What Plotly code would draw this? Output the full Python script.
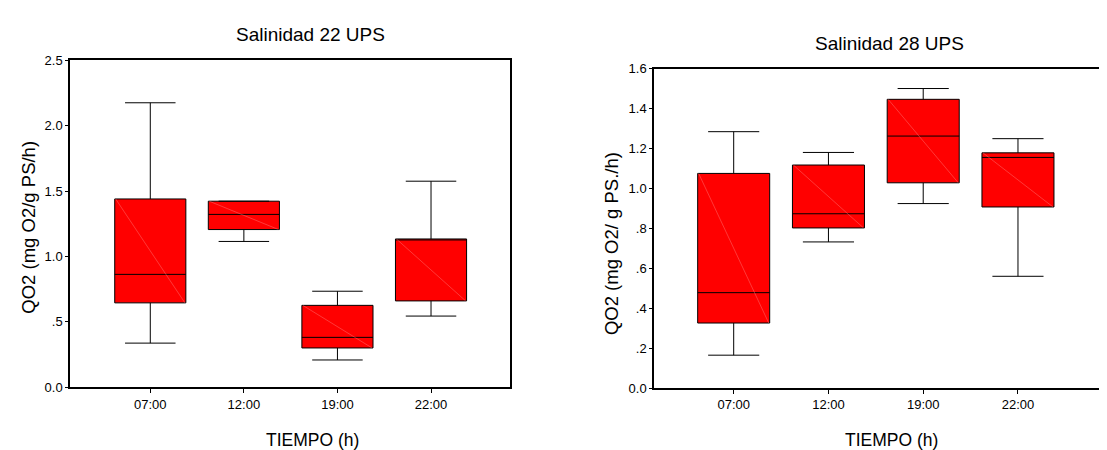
import plotly.graph_objects as go

# ---- data ----
categories = ["07:00", "12:00", "19:00", "22:00"]

# Salinidad 22 UPS
s22_lower = [0.337, 1.115, 0.208, 0.544]
s22_q1 = [0.645, 1.206, 0.300, 0.660]
s22_median = [0.863, 1.322, 0.381, 1.127]
s22_q3 = [1.440, 1.423, 0.626, 1.134]
s22_upper = [2.176, 1.423, 0.734, 1.576]

# Salinidad 28 UPS
s28_lower = [0.165, 0.732, 0.924, 0.560]
s28_q1 = [0.326, 0.802, 1.028, 0.907]
s28_median = [0.478, 0.873, 1.262, 1.155]
s28_q3 = [1.075, 1.117, 1.446, 1.178]
s28_upper = [1.284, 1.180, 1.500, 1.249]

y22_ticks = [0.0, 0.5, 1.0, 1.5, 2.0, 2.5]
y22_ticktext = ["0.0", ".5", "1.0", "1.5", "2.0", "2.5"]
y28_ticks = [0.0, 0.2, 0.4, 0.6, 0.8, 1.0, 1.2, 1.4, 1.6]
y28_ticktext = ["0.0", ".2", ".4", ".6", ".8", "1.0", "1.2", "1.4", "1.6"]

titles = ["Salinidad 22 UPS", "Salinidad 28 UPS"]
xtitle = "TIEMPO (h)"
ytitles = ["QO2 (mg O2/g PS/h)", "QO2 (mg O2/ g PS./h)"]

# ---- style ----
FONT = "Liberation Sans, Arial, sans-serif"
BOX_W = 0.76
W, H = 1107, 450

fig = go.Figure()

def add_box(xa, ya, lower, q1, med, q3, upper):
    fig.add_trace(go.Box(
        x=categories, lowerfence=lower, q1=q1, median=med, q3=q3, upperfence=upper,
        xaxis=xa, yaxis=ya, width=BOX_W, whiskerwidth=0.71,
        fillcolor="#ff0000", line=dict(color="black", width=1),
        boxpoints=False, showlegend=False, hoverinfo="skip",
    ))
    # faint diagonal inside each box (top-left to bottom-right)
    for i in range(len(categories)):
        fig.add_shape(type="line", xref=xa, yref=ya,
                      x0=i - BOX_W / 2 + 0.01, y0=q3[i], x1=i + BOX_W / 2 - 0.01, y1=q1[i],
                      line=dict(color="rgba(255,150,150,0.75)", width=0.5), layer="above")

add_box("x", "y", s22_lower, s22_q1, s22_median, s22_q3, s22_upper)
add_box("x2", "y2", s28_lower, s28_q1, s28_median, s28_q3, s28_upper)

axis_common = dict(showgrid=False, zeroline=False, showline=True, linecolor="black",
                   linewidth=1.5, ticks="outside", tickcolor="black",
                   tickfont=dict(family=FONT, size=13, color="black"))

fig.update_layout(
    width=W, height=H, margin=dict(l=0, r=0, t=0, b=0),
    paper_bgcolor="white", plot_bgcolor="white",
    xaxis=dict(domain=[62 / W, 502 / W], anchor="y", type="category",
               categoryorder="array", categoryarray=categories,
               range=[-0.858, 3.844], mirror=True, ticklen=4, **axis_common),
    yaxis=dict(domain=[1 - 385 / H, 1 - 47 / H], anchor="x", range=[0, 2.5],
               tickvals=y22_ticks, ticktext=y22_ticktext, mirror=True, ticklen=3,
               **axis_common),
    xaxis2=dict(domain=[646 / W, 1.0], anchor="y2", type="category",
                categoryorder="array", categoryarray=categories,
                range=[-0.841, 4.024], mirror=True, ticklen=4, **axis_common),
    yaxis2=dict(domain=[1 - 386 / H, 1 - 55.4 / H], anchor="x2", range=[0, 1.6],
                tickvals=y28_ticks, ticktext=y28_ticktext, mirror=False, ticklen=3,
                **axis_common),
)

def ann(text, x, y, size, angle=0):
    fig.add_annotation(text=text, x=x / W, y=1 - y / H, xref="paper", yref="paper",
                       showarrow=False, textangle=angle, xanchor="center", yanchor="middle",
                       font=dict(family=FONT, size=size, color="black"))

ann(titles[0], 302, 20, 19)
ann(titles[1], 881, 29.5, 19)
ann(xtitle, 304, 440, 17.5)
ann(xtitle, 883, 440, 17.5)
ann(ytitles[0], 21, 220, 18.5, -90)
ann(ytitles[1], 603, 237, 18.5, -90)

fig.write_html("out.html")
